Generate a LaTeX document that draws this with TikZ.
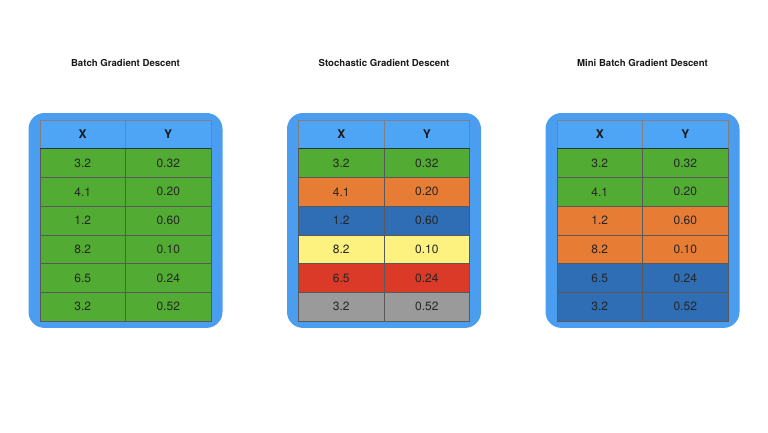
\documentclass[tikz,border=0pt]{standalone}
\usepackage{fontspec}
\setmainfont{TeX Gyre Heros}
\usetikzlibrary{fit, positioning, backgrounds}
\definecolor{bgblue}{HTML}{4B9DEF}
\definecolor{headblue}{HTML}{4EA5F6}
\definecolor{cgreen}{HTML}{52AC33}
\definecolor{corange}{HTML}{E77C35}
\definecolor{cblue}{HTML}{2F6EB5}
\definecolor{cyellow}{HTML}{FDF180}
\definecolor{cred}{HTML}{DA3A27}
\definecolor{cgray}{HTML}{9A9A9A}
\definecolor{navy}{HTML}{1F3550}

\begin{document}
\begin{tikzpicture}
	% style
	[x=1pt, y=-1pt, node distance=0pt,
	title/.style={font=\fontsize{9.6}{11}\selectfont\bfseries, text=black!90},
	head/.style={rectangle, draw=black!50, fill=headblue, line width=0.5pt, outer sep=0pt, minimum width=85.5pt, minimum height=28.7pt, inner sep=0pt, font=\fontsize{12}{14}\selectfont\bfseries, text=black!90},
	cell/.style={rectangle, draw=black!65, fill=#1, line width=0.5pt, outer sep=0pt, minimum width=85.5pt, minimum height=28.7pt, inner sep=0pt, font=\fontsize{12}{14}\selectfont, text=black!85},
	frame/.style={rectangle, fill=bgblue, rounded corners=16pt, inner xsep=11.5pt, inner ysep=7pt},
	headline/.style={draw=navy, line width=1.3pt}]

	\useasboundingbox (0,0) rectangle (768,432);

	% batch gradient descent
	\node [title] (title_b) at (125.5,63) {Batch Gradient Descent};
	\node [head] (b_x) at (82.75,134.35) {X};
	\node [head, right=of b_x] (b_y) {Y};
	\node [cell=cgreen, below=of b_x] (b_x1) {3.2};
	\node [cell=cgreen, right=of b_x1] (b_y1) {0.32};
	\node [cell=cgreen, below=of b_x1] (b_x2) {4.1};
	\node [cell=cgreen, right=of b_x2] (b_y2) {0.20};
	\node [cell=cgreen, below=of b_x2] (b_x3) {1.2};
	\node [cell=cgreen, right=of b_x3] (b_y3) {0.60};
	\node [cell=cgreen, below=of b_x3] (b_x4) {8.2};
	\node [cell=cgreen, right=of b_x4] (b_y4) {0.10};
	\node [cell=cgreen, below=of b_x4] (b_x5) {6.5};
	\node [cell=cgreen, right=of b_x5] (b_y5) {0.24};
	\node [cell=cgreen, below=of b_x5] (b_x6) {3.2};
	\node [cell=cgreen, right=of b_x6] (b_y6) {0.52};
	\draw [headline] (b_x.south west) -- (b_y.south east);

	% stochastic gradient descent
	\node [title] (title_s) at (384,63) {Stochastic Gradient Descent};
	\node [head] (s_x) at (341.25,134.35) {X};
	\node [head, right=of s_x] (s_y) {Y};
	\node [cell=cgreen, below=of s_x] (s_x1) {3.2};
	\node [cell=cgreen, right=of s_x1] (s_y1) {0.32};
	\node [cell=corange, below=of s_x1] (s_x2) {4.1};
	\node [cell=corange, right=of s_x2] (s_y2) {0.20};
	\node [cell=cblue, below=of s_x2] (s_x3) {1.2};
	\node [cell=cblue, right=of s_x3] (s_y3) {0.60};
	\node [cell=cyellow, below=of s_x3] (s_x4) {8.2};
	\node [cell=cyellow, right=of s_x4] (s_y4) {0.10};
	\node [cell=cred, below=of s_x4] (s_x5) {6.5};
	\node [cell=cred, right=of s_x5] (s_y5) {0.24};
	\node [cell=cgray, below=of s_x5] (s_x6) {3.2};
	\node [cell=cgray, right=of s_x6] (s_y6) {0.52};
	\draw [headline] (s_x.south west) -- (s_y.south east);

	% mini batch gradient descent
	\node [title] (title_m) at (642.5,63) {Mini Batch Gradient Descent};
	\node [head] (m_x) at (599.75,134.35) {X};
	\node [head, right=of m_x] (m_y) {Y};
	\node [cell=cgreen, below=of m_x] (m_x1) {3.2};
	\node [cell=cgreen, right=of m_x1] (m_y1) {0.32};
	\node [cell=cgreen, below=of m_x1] (m_x2) {4.1};
	\node [cell=cgreen, right=of m_x2] (m_y2) {0.20};
	\node [cell=corange, below=of m_x2] (m_x3) {1.2};
	\node [cell=corange, right=of m_x3] (m_y3) {0.60};
	\node [cell=corange, below=of m_x3] (m_x4) {8.2};
	\node [cell=corange, right=of m_x4] (m_y4) {0.10};
	\node [cell=cblue, below=of m_x4] (m_x5) {6.5};
	\node [cell=cblue, right=of m_x5] (m_y5) {0.24};
	\node [cell=cblue, below=of m_x5] (m_x6) {3.2};
	\node [cell=cblue, right=of m_x6] (m_y6) {0.52};
	\draw [headline] (m_x.south west) -- (m_y.south east);

	% frames
	\begin{scope}[on background layer]
	\fill [white] (0,0) rectangle (768,432);
	\node [frame, fit=(b_x)(b_y6)] (frame_b) {};
	\node [frame, fit=(s_x)(s_y6)] (frame_s) {};
	\node [frame, fit=(m_x)(m_y6)] (frame_m) {};
	\end{scope}
\end{tikzpicture}
\end{document}
